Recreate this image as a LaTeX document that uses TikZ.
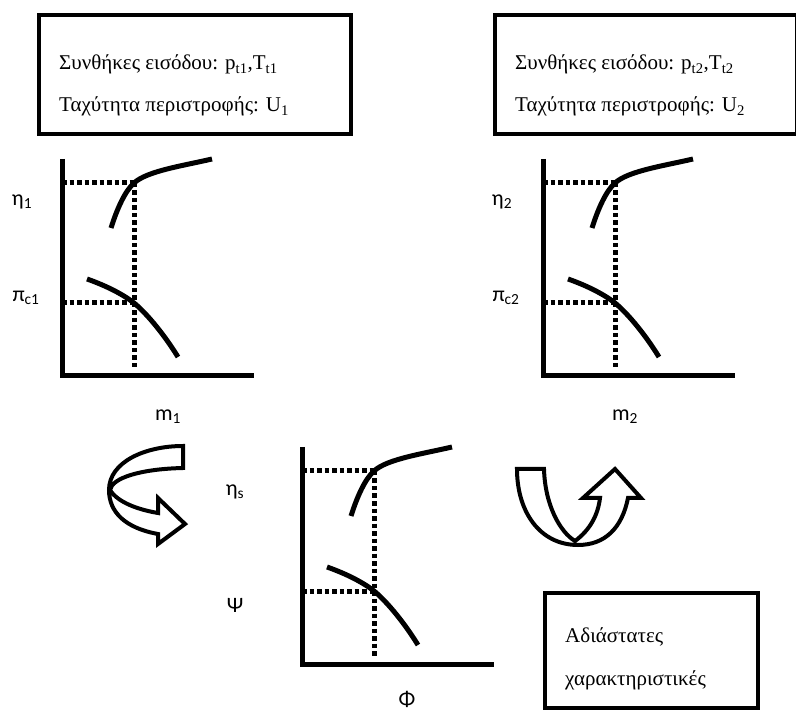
\documentclass[tikz,border=0pt]{standalone}
\usepackage{fontspec}
\setmainfont{Liberation Serif}
\newfontfamily\lblfont{Carlito}
\begin{document}
\begin{tikzpicture}[x=1pt,y=-1pt,
  boxframe/.style={draw, line width=4.5pt},
  axisline/.style={line width=5pt, line join=miter},
  curveline/.style={line width=5pt},
  dotline/.style={line width=5pt, dash pattern=on 4.5pt off 3pt},
  lbl/.style={font=\lblfont\fontsize{22}{24}\selectfont, inner sep=0pt},
  txt/.style={font=\fontsize{21}{24}\selectfont, anchor=base west, inner sep=0pt},
  arrowshape/.style={draw, line width=4pt, fill=white, line join=miter},
  perf/.pic={
    \draw[dotline] (0,24) -- (72,24) (0,144) -- (72,144) (72,24) -- (72,210);
    \draw[axisline] (0,0) -- (0,217) -- (192,217);
    \draw[curveline] (49,69) .. controls (55,50) and (63,32) .. (72,24)
       .. controls (85,12) and (120,7) .. (150,0);
    \draw[curveline] (25,120) .. controls (45,127) and (62,136) .. (72,144)
       .. controls (82,152) and (100,172) .. (116,198);
  }]
\useasboundingbox (0,0) rectangle (796,711);

% top boxes
\draw[boxframe] (39,15) rectangle (351,134);
\node[txt] (in1) at (59,70) {Συνθήκες εισόδου: p\textsubscript{t1},T\textsubscript{t1}};
\node[txt] (rot1) at (59,112) {Ταχύτητα περιστροφής: U\textsubscript{1}};

\draw[boxframe] (495,15) rectangle (797,134);
\node[txt] (in2) at (515,70) {Συνθήκες εισόδου: p\textsubscript{t2},T\textsubscript{t2}};
\node[txt] (rot2) at (515,112) {Ταχύτητα περιστροφής: U\textsubscript{2}};

% charts
\pic at (62,159) {perf};
\pic at (543,159) {perf};
\pic at (302,447) {perf};

% labels
\node[lbl] (eta1) at (22,202) {η\textsubscript{1}};
\node[lbl] (pi1) at (26,298) {π\textsubscript{c1}};
\node[lbl] (m1) at (168,417) {m\textsubscript{1}};
\node[lbl] (eta2) at (502,202) {η\textsubscript{2}};
\node[lbl] (pi2) at (506,298) {π\textsubscript{c2}};
\node[lbl] (m2) at (625,417) {m\textsubscript{2}};
\node[lbl] (etas) at (235,492) {η\textsubscript{s}};
\node[lbl] (psi) at (235,605) {Ψ};
\node[lbl] (phi) at (407,699) {Φ};

% curved arrows
\draw[arrowshape] (183,446) -- (183,468) .. controls (140,469) and (112,478) .. (110,490)
  .. controls (118,503) and (140,510) .. (158,513) -- (158,498) -- (185,524) -- (158,544) -- (158,534)
  .. controls (125,528) and (109,512) .. (109,490)
  .. controls (109,462) and (145,446) .. (183,446) -- cycle;
\draw[arrowshape] (517,469) -- (544,469) .. controls (545,505) and (560,532) .. (575,541)
  .. controls (590,530) and (598,515) .. (600,498) -- (583,498) -- (615,469) -- (641,498) -- (628,498)
  .. controls (622,528) and (605,545) .. (578,545)
  .. controls (540,545) and (517,512) .. (517,469) -- cycle;

% bottom box
\draw[boxframe] (545,593) rectangle (758,708);
\node[txt] (ad1) at (565,642) {Αδιάστατες};
\node[txt] (ad2) at (565,685) {χαρακτηριστικές};
\end{tikzpicture}
\end{document}
